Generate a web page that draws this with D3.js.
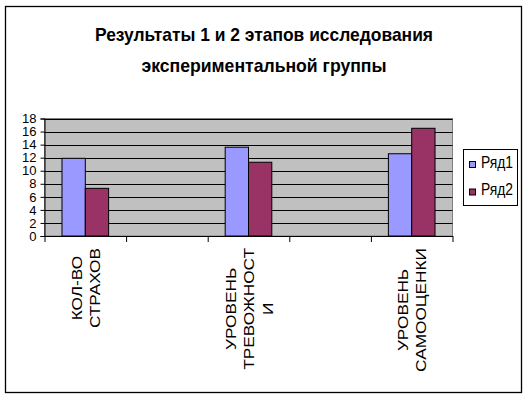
<!DOCTYPE html>
<html>
<head>
<meta charset="utf-8">
<script src="https://cdn.jsdelivr.net/npm/d3@7"></script>
<style>
  body { margin: 0; background: #fff; }
  svg { display: block; font-family: "Liberation Sans", Arial, sans-serif; }
</style>
</head>
<body>
<svg id="chart"></svg>
<script>
var width = 528;
var height = 399;

// data
var categories = ["КОЛ-ВО\nСТРАХОВ", "", "УРОВЕНЬ\nТРЕВОЖНОСТ\nИ", "", "УРОВЕНЬ\nСАМООЦЕНКИ"];
var seriesNames = ["Ряд1", "Ряд2"];
var row1 = [11.9, null, 13.6, null, 12.6];
var row2 = [7.3, null, 11.3, null, 16.5];
var yTicks = [0, 2, 4, 6, 8, 10, 12, 14, 16, 18];
var colors = ["#9999FF", "#993366"];

var plot = {left: 44.5, right: 452.5, top: 118.5, bottom: 236};

var svg = d3.select("#chart")
	.attr("width", width)
	.attr("height", height);

// outer frame
svg.append("rect")
	.attr("x", 5.5).attr("y", 6.5)
	.attr("width", 516).attr("height", 386)
	.attr("fill", "#fff")
	.attr("stroke", "#000")
	.attr("stroke-width", 1.3);

// title (narrow bold, squeezed to the widths in the picture)
var titleLines = [
	{text: "Результаты 1 и 2 этапов исследования", y: 41, len: 338},
	{text: "экспериментальной группы", y: 72, len: 245}
];
svg.selectAll(".title").data(titleLines).enter()
	.append("text")
	.attr("class", "title")
	.attr("x", 264)
	.attr("y", function (d) { return d.y; })
	.attr("text-anchor", "middle")
	.attr("textLength", function (d) { return d.len; })
	.attr("lengthAdjust", "spacingAndGlyphs")
	.style("font-family", "'Liberation Sans Narrow', 'Liberation Sans', Arial, sans-serif")
	.style("font-size", "19px")
	.style("font-weight", "bold")
	.text(function (d) { return d.text; });

// scales
var x = d3.scaleBand()
	.domain(d3.range(categories.length))
	.range([plot.left, plot.right])
	.padding(0);

var xs = d3.scaleBand()
	.domain([0, 1])
	.range([0, x.bandwidth()])
	.paddingInner(0)
	.paddingOuter(0.75);

var y = d3.scaleLinear()
	.domain([0, 18])
	.range([plot.bottom, plot.top]);

// plot area
svg.append("rect")
	.attr("x", plot.left).attr("y", plot.top)
	.attr("width", plot.right - plot.left)
	.attr("height", plot.bottom - plot.top)
	.attr("fill", "#C0C0C0")
	.attr("stroke", "#808080");

// gridlines
svg.selectAll(".grid").data(yTicks.slice(1)).enter()
	.append("line")
	.attr("class", "grid")
	.attr("x1", plot.left).attr("x2", plot.right)
	.attr("y1", function (d) { return Math.round(y(d)) + 0.5; })
	.attr("y2", function (d) { return Math.round(y(d)) + 0.5; })
	.attr("stroke", "#000");

// bars
var seriesData = [row1, row2];
seriesData.forEach(function (vals, s) {
	svg.selectAll(".bar" + s)
		.data(vals.map(function (v, i) { return {i: i, v: v}; }).filter(function (d) { return d.v !== null; }))
		.enter()
		.append("rect")
		.attr("class", "bar" + s)
		.attr("x", function (d) { return x(d.i) + xs(s); })
		.attr("y", function (d) { return y(d.v); })
		.attr("width", xs.bandwidth())
		.attr("height", function (d) { return y(0) - y(d.v); })
		.attr("fill", colors[s])
		.attr("stroke", "#000");
});

// y axis
var yAxis = d3.axisLeft(y).tickValues(yTicks).tickSize(4).tickPadding(4);
var gy = svg.append("g")
	.attr("transform", "translate(" + plot.left + ",0)")
	.call(yAxis);
gy.selectAll("text")
	.style("font-size", "13px")
	.style("font-family", "'Liberation Sans', Arial, sans-serif")
	.attr("fill", "#000");
gy.selectAll("line, path").attr("stroke", "#000");

// x axis: ticks on the category boundaries
var xb = d3.scaleLinear().domain([0, categories.length]).range([plot.left, plot.right]);
var gx = svg.append("g")
	.attr("transform", "translate(0," + plot.bottom + ")")
	.call(d3.axisBottom(xb).tickValues(d3.range(categories.length + 1)).tickFormat("").tickSize(6).tickSizeOuter(0));
gx.selectAll("line, path").attr("stroke", "#000");

// category labels, rotated, each block centred on its band
var labelTop = 248;
var lineGap = 18.5;
var stretch = 1.15;
categories.forEach(function (cat, i) {
	if (!cat) return;
	var lines = cat.split("\n");
	var xc = x(i) + x.bandwidth() / 2;
	var g = svg.append("g");
	var texts = g.selectAll("text").data(lines).enter()
		.append("text")
		.attr("text-anchor", "middle")
		.style("font-size", "15px")
		.text(function (d) { return d; });
	var maxLen = d3.max(texts.nodes(), function (n) { return n.getComputedTextLength(); }) * stretch;
	var cy = labelTop + maxLen / 2;
	texts.attr("transform", function (d, j) {
		var cx = xc + (j - (lines.length - 1) / 2) * lineGap + 5.5;
		return "translate(" + cx + "," + cy + ") rotate(-90) scale(" + stretch + ",1)";
	});
});

// legend
var legend = svg.append("g");
legend.append("rect")
	.attr("x", 463.5).attr("y", 149.5)
	.attr("width", 54).attr("height", 56)
	.attr("fill", "#fff")
	.attr("stroke", "#000");
var items = legend.selectAll(".item").data(seriesNames).enter()
	.append("g")
	.attr("class", "item")
	.attr("transform", function (d, i) { return "translate(0," + (i * 27.5) + ")"; });
items.append("rect")
	.attr("x", 469.5).attr("y", 161.5)
	.attr("width", 6).attr("height", 6)
	.attr("fill", function (d, i) { return colors[i]; })
	.attr("stroke", "#000");
items.append("text")
	.attr("x", 481)
	.attr("y", 167.5)
	.attr("textLength", 32)
	.attr("lengthAdjust", "spacingAndGlyphs")
	.style("font-size", "16px")
	.text(function (d) { return d; });
</script>
</body>
</html>
